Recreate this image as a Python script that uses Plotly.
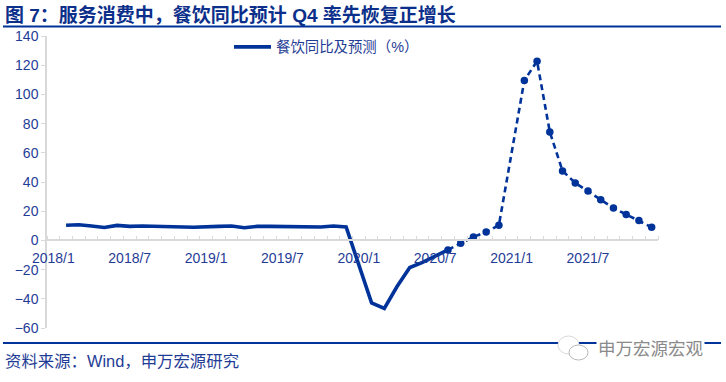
import plotly.graph_objects as go

# month labels 2018/1 .. 2021/12; January has no reading each year
years = [2018, 2019, 2020, 2021]
months = [f"{y}/{m}" for y in years for m in range(1, 13)]
tick_labels = ["2018/1", "2018/7", "2019/1", "2019/7", "2020/1", "2020/7", "2021/1", "2021/7"]

actual_months = ["2018/2","2018/3","2018/4","2018/5","2018/6","2018/7","2018/8","2018/9","2018/10","2018/11","2018/12",
                 "2019/2","2019/3","2019/4","2019/5","2019/6","2019/7","2019/8","2019/9","2019/10","2019/11","2019/12",
                 "2020/2","2020/3","2020/4","2020/5","2020/6","2020/7","2020/8"]
actual_values = [10.4,10.7,9.9,8.8,10.3,9.6,9.9,9.6,9.0,8.8,9.0,
                 9.6,9.9,8.7,9.6,9.6,9.5,9.9,9.5,9.2,9.9,9.2,
                 -42.8,-46.6,-31.6,-18.6,-15.0,-11.0,-6.5]

forecast_months = ["2020/8","2020/9","2020/10","2020/11","2020/12",
                   "2021/2","2021/3","2021/4","2021/5","2021/6","2021/7","2021/8","2021/9","2021/10","2021/11","2021/12"]
forecast_values = [-6.5,-2.0,2.4,5.8,10.4,
                   109.6,122.7,74.3,47.6,39.4,33.9,27.9,22.2,17.7,13.6,9.0]

y_ticks = [-60,-40,-20,0,20,40,60,80,100,120,140]

BLUE = "#003399"
TEXT = "#1f3c96"
AXIS = "#d9d9d9"
FONT = "Liberation Sans, Noto Sans CJK SC"

W, H = 726, 382
L, R, T, B = 47, 68, 36, 54

pos = {m: i + 0.5 for i, m in enumerate(months)}

fig = go.Figure()
fig.add_trace(go.Scatter(
    x=[pos[m] for m in forecast_months], y=forecast_values,
    mode="lines+markers", showlegend=False,
    line=dict(color=BLUE, width=2.6, dash="6px,4px"),
    marker=dict(color=BLUE, size=7.5),
))
fig.add_trace(go.Scatter(
    x=[pos[m] for m in actual_months], y=actual_values,
    mode="lines", name="餐饮同比及预测（%）",
    line=dict(color=BLUE, width=3.6),
))

fig.update_layout(
    width=W, height=H, autosize=False,
    margin=dict(l=L, r=R, t=T, b=B, pad=0),
    paper_bgcolor="white", plot_bgcolor="white",
    font=dict(family=FONT, size=14, color=TEXT),
    legend=dict(x=(229 - L) / (W - L - R), y=1 - (31 - T) / (H - T - B),
                xanchor="left", yanchor="top", bgcolor="rgba(0,0,0,0)",
                itemwidth=37, font=dict(size=14.4, color=TEXT)),
    xaxis=dict(
        range=[0, 48], anchor="free", position=0.3, showgrid=False, zeroline=False,
        showline=True, linecolor=AXIS, linewidth=1.5,
        tickmode="array", tickvals=[pos[m] for m in tick_labels], ticktext=tick_labels,
        ticks="", ticklabelstandoff=5, tickfont=dict(size=14, color=TEXT),
        minor=dict(tickmode="array", tickvals=list(range(0, 49)), ticks="inside",
                   ticklen=4, tickcolor=AXIS, tickwidth=1.2, showgrid=False),
    ),
    yaxis=dict(
        range=[-60, 140], showgrid=False, zeroline=False,
        showline=True, linecolor=AXIS, linewidth=1.5,
        tickmode="array", tickvals=y_ticks, ticks="outside", ticklen=4,
        tickcolor=AXIS, tickwidth=1.2, tickfont=dict(size=14, color=TEXT),
    ),
    shapes=[
        dict(type="line", xref="paper", yref="paper", layer="below",
             x0=(3 - L) / (W - L - R), x1=(721 - L) / (W - L - R),
             y0=1 - (26.5 - T) / (H - T - B), y1=1 - (26.5 - T) / (H - T - B),
             line=dict(color=BLUE, width=2.2)),
        dict(type="line", xref="paper", yref="paper", layer="below",
             x0=(3 - L) / (W - L - R), x1=(721 - L) / (W - L - R),
             y0=1 - (343 - T) / (H - T - B), y1=1 - (343 - T) / (H - T - B),
             line=dict(color=BLUE, width=2.2)),
        dict(type="circle", xref="paper", yref="paper",
             x0=(558 - L) / (W - L - R), x1=(579 - L) / (W - L - R),
             y0=1 - (354 - T) / (H - T - B), y1=1 - (336 - T) / (H - T - B),
             fillcolor="white", line=dict(color="#d8d8d8", width=1)),
        dict(type="circle", xref="paper", yref="paper",
             x0=(569 - L) / (W - L - R), x1=(588 - L) / (W - L - R),
             y0=1 - (360 - T) / (H - T - B), y1=1 - (345 - T) / (H - T - B),
             fillcolor="white", line=dict(color="#b8b8b8", width=1)),
    ],
    annotations=[
        dict(text="<b>图 7：服务消费中，餐饮同比预计 Q4 率先恢复正增长</b>", xref="paper", yref="paper",
             x=(3 - L) / (W - L - R), y=1 - (15 - T) / (H - T - B), xanchor="left", yanchor="middle",
             showarrow=False, font=dict(size=19, color="#0b2f8a", family=FONT)),
        dict(text="资料来源：Wind，申万宏源研究", xref="paper", yref="paper",
             x=(3 - L) / (W - L - R), y=1 - (361 - T) / (H - T - B), xanchor="left", yanchor="middle",
             showarrow=False, font=dict(size=16.4, color=TEXT, family=FONT)),
        dict(text="申万宏源宏观", xref="paper", yref="paper",
             x=(650 - L) / (W - L - R), y=1 - (349 - T) / (H - T - B), xanchor="center", yanchor="middle",
             showarrow=False, bgcolor="white", font=dict(size=17.5, color="#8a8a8a", family=FONT)),
    ],
)

fig.write_html("out.html", config={"displayModeBar": False},
               post_script="document.body.style.margin='0';")
